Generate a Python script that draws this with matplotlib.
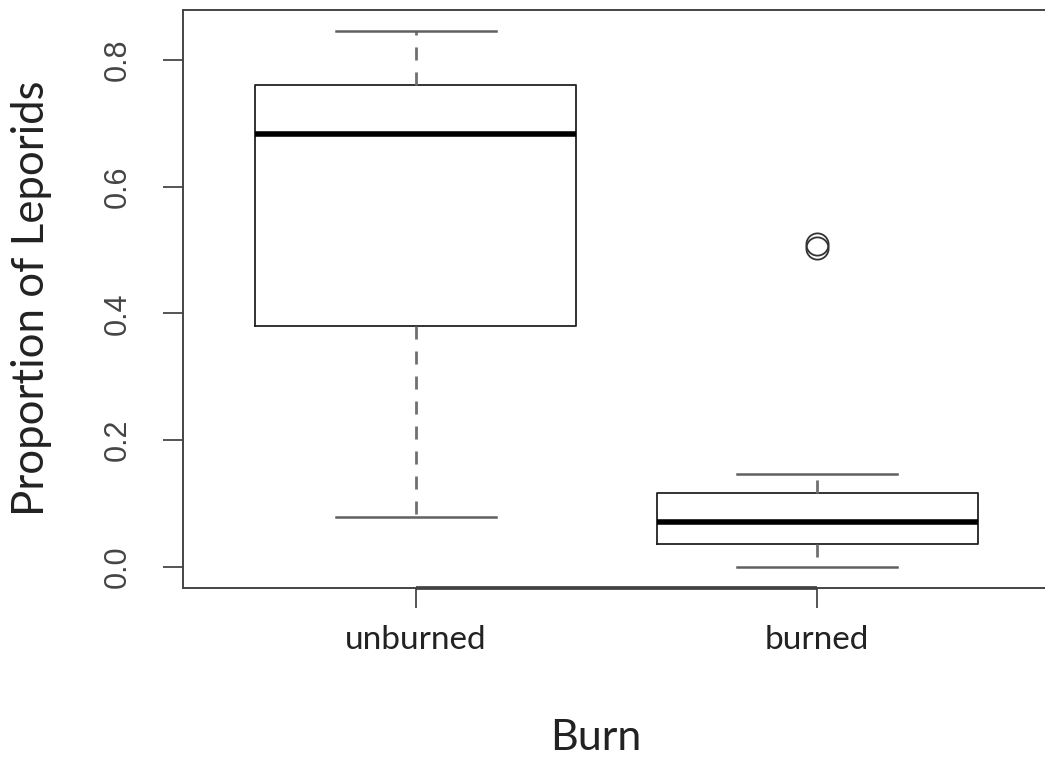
import matplotlib
import matplotlib.pyplot as plt

matplotlib.use("Agg")

# Box statistics per burn treatment
groups = ["unburned", "burned"]
whisker_low = [0.078, 0.0]
q1 = [0.380, 0.036]
medians = [0.683, 0.071]
q3 = [0.760, 0.116]
whisker_high = [0.845, 0.146]
outliers = [[], [0.503, 0.509]]

stats = []
for i, name in enumerate(groups):
    stats.append(dict(label=name, whislo=whisker_low[i], q1=q1[i], med=medians[i],
                      q3=q3[i], whishi=whisker_high[i], fliers=outliers[i]))

W, H = 1045, 761
fig = plt.figure(figsize=(W / 100, H / 100), dpi=100)
ax = fig.add_axes([183 / W, 1 - 588 / H, (1050 - 183) / W, (588 - 10) / H])

line_col = "#222222"
ax.bxp(
    stats,
    positions=[1, 2],
    widths=0.8,
    showfliers=True,
    boxprops=dict(color=line_col, linewidth=1.3),
    medianprops=dict(color="black", linewidth=4.0, solid_capstyle="butt"),
    whiskerprops=dict(color="#707070", linewidth=2.0, linestyle=(0, (4.7, 4.3))),
    capprops=dict(color="#606060", linewidth=1.8),
    capwidths=0.4,
    flierprops=dict(marker="o", markersize=16, markerfacecolor="none",
                    markeredgecolor="#333333", markeredgewidth=1.3),
)

ax.set_xlim(0.42, 2.58)
ax.set_ylim(-0.0338, 0.8788)

for side in ["left", "top", "bottom", "right"]:
    ax.spines[side].set_color("#444444")
    ax.spines[side].set_linewidth(1.4)

# axis line between first and last group tick
ax.hlines(ax.get_ylim()[0], 1, 2, color="#333333", linewidth=2.6, clip_on=False)

ax.set_yticks([0.0, 0.2, 0.4, 0.6, 0.8])
ax.set_yticklabels(["0.0", "0.2", "0.4", "0.6", "0.8"], rotation=90, va="center",
                   fontsize=22, family="Liberation Sans", color="#444444")
ax.set_xticks([1, 2])
ax.set_xticklabels(groups, fontsize=24, family="Lato", color="#222222")
ax.tick_params(axis="y", direction="out", length=14.5, width=1.4, color="#555555", pad=22)
ax.tick_params(axis="x", direction="out", length=14.5, width=1.4, color="#555555", pad=12)

fig.text(32 / W, 1 - 298 / H, "Proportion of Leporids", rotation=90, ha="center",
         va="center", fontsize=31.5, family="Lato", color="#222222")
fig.text(596 / W, 1 - 738 / H, "Burn", ha="center", va="center", fontsize=31,
         family="Lato", color="#222222")

fig.savefig("out.png", dpi=100)
